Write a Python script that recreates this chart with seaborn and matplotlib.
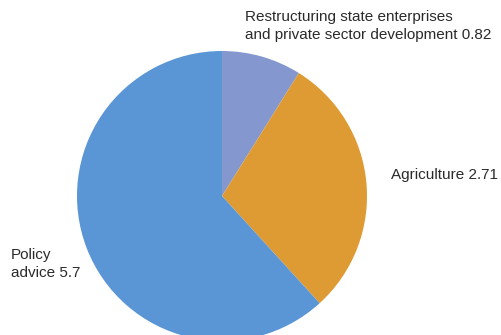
import matplotlib
matplotlib.use("Agg")
import matplotlib.pyplot as plt
import seaborn as sns

# data
sectors = ["Restructuring state enterprises\nand private sector development", "Agriculture", "Policy\nadvice"]
values = [0.82, 2.71, 5.7]
value_labels = ["0.82", "2.71", "5.7"]
colours = ["#8497CF", "#DE9B33", "#5A95D5"]

sns.set_theme(style="white")
plt.rcParams['font.family'] = ['Liberation Sans', 'DejaVu Sans']

fig = plt.figure(figsize=(5.01, 3.35), dpi=100)
# pie centre at about (222, 196) px, radius 145 px
ax = fig.add_axes([77 / 501, -6 / 335, 290 / 501, 290 / 335])
wedges, _ = ax.pie(values, colors=colours, startangle=90, counterclock=False,
                   radius=1.0, wedgeprops=dict(linewidth=0))
ax.set_xlim(-1, 1)
ax.set_ylim(-1, 1)
ax.set_aspect("equal")
ax.axis("off")

# labels
fig.text(245 / 501, 1 - 10 / 335, f"{sectors[0]} {value_labels[0]}", ha="left", va="top",
         fontsize=11, color="#2a2a2a", linespacing=1.35)
fig.text(391 / 501, 1 - 175 / 335, f"{sectors[1]} {value_labels[1]}", ha="left", va="center",
         fontsize=11, color="#2a2a2a")
fig.text(11 / 501, 1 - 264 / 335, f"{sectors[2]} {value_labels[2]}", ha="left", va="center",
         fontsize=11, color="#2a2a2a", linespacing=1.35)

fig.savefig("out.png", dpi=100)
